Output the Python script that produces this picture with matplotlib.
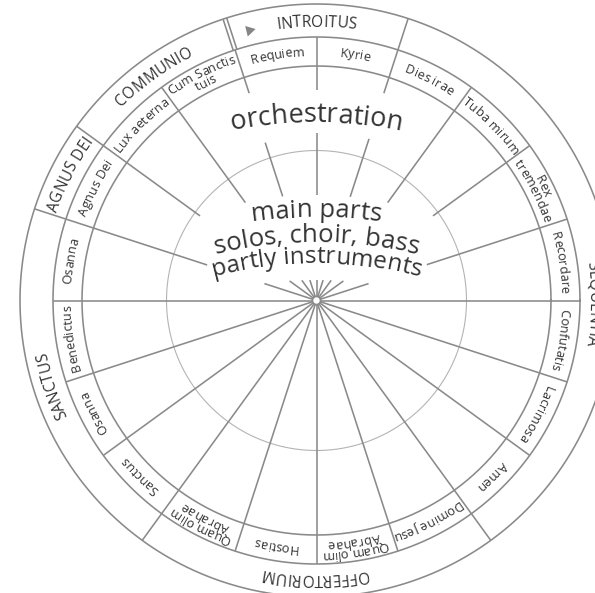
import matplotlib
matplotlib.use("Agg")
import matplotlib.pyplot as plt
import numpy as np
from matplotlib.font_manager import FontProperties, findfont, get_font

# sections of the Requiem and their number of parts (clockwise from the top)
sections = ["INTROITUS", "SEQUENTIA", "OFFERTORIUM", "SANCTUS", "AGNUS DEI", "COMMUNIO"]
section_sizes = [2, 7, 4, 4, 1, 2]
parts = ["Requiem", "Kyrie", "Dies irae", "Tuba mirum", "Rex\ntremendae", "Recordare",
         "Confutatis", "Lacrimosa", "Amen", "Domine Jesu", "Quam olim\nAbrahae", "Hostias",
         "Quam olim\nAbrahae", "Sanctus", "Osanna", "Benedictus", "Osanna", "Agnus Dei",
         "Lux aeterna", "Cum Sanctis\ntuis"]
outer_word = "orchestration"
center_lines = ["main parts", "solos, choir, bass", "partly instruments"]

FONT = "Open Sans"
LINE = "#8a8a8a"
TEXT = "#333333"
LW = 1.15

CX, CY = 316.5, 300.5
R_OUT, R_MID, R_IN, R_THIN = 296.5, 263.5, 234.5, 150
START = 108.0
STEP = 360.0 / len(parts)

fig = plt.figure(figsize=(5.95, 5.93), dpi=100)
ax = fig.add_axes([0, 0, 1, 1])
ax.set_xlim(0, 595)
ax.set_ylim(593, 0)
ax.set_aspect("equal")
ax.axis("off")
rend = fig.canvas.get_renderer()


def pt(r, a, cx=CX, cy=CY):
    t = np.radians(a)
    return cx + r * np.cos(t), cy - r * np.sin(t)


def ray(a, r0, r1):
    x0, y0 = pt(r0, a)
    x1, y1 = pt(r1, a)
    ax.plot([x0, x1], [y0, y1], color=LINE, lw=LW, solid_capstyle="butt")


def circle(r, color=LINE, lw=LW):
    t = np.linspace(0, 2 * np.pi, 721)
    ax.plot(CX + r * np.cos(t), CY + r * np.sin(t), color=color, lw=lw)


def arc_text(s, r, theta, size, cx=CX, cy=CY):
    # letters laid one by one along a circle, tops pointing outwards
    fp = FontProperties(family=FONT, size=size)
    ft = get_font(findfont(fp))

    def ink(t):
        return rend.get_text_width_height_descent(t, fp, ismath=False)[0]

    def bearing(ch):
        ft.clear()
        ft.set_size(size, 100)
        ft.set_text(ch, 0.0)
        return ft.get_bitmap_offset()[0] / 64.0

    bars = ink("||")

    def pen(t):
        return ink("|" + t + "|") - bars

    half = pen(s) / 2
    for i, ch in enumerate(s):
        if ch == " ":
            continue
        p = pen(s[:i]) if i else 0.0
        a0 = theta - np.degrees((p - half) / r)
        adv = pen(s[:i + 1]) - p
        a = a0 - np.degrees(adv / 2 / r)
        x, y = pt(r, a0, cx, cy)
        # agg shifts the glyph by its bearing along screen x, not along the baseline
        lsb = bearing(ch)
        t = np.radians(a)
        x += lsb * (np.sin(t) - 1)
        y += lsb * np.cos(t)
        ax.text(x, y, ch, rotation=a - 90, rotation_mode="anchor", ha="left",
                va="baseline", fontproperties=fp, color=TEXT)


# rings
circle(R_OUT)
circle(R_MID)
circle(R_IN)
circle(R_THIN, color="#b4b4b4", lw=0.8)

# part boundaries
inner_cut = {18: 116, 36: 144, 54: 121, 72: 109, 90: 105.5, 108: 109.5,
             126: 121, 144: 144, 162: 115}
text_gap = {72: (170, 218), 90: (167.5, 210.5), 108: (166, 218)}
for k in range(len(parts)):
    a = round((START - STEP * k + 180) % 360 - 180)
    ray(a, R_IN, R_MID)
    if a in inner_cut:
        if a in text_gap:
            lo, hi = text_gap[a]
            ray(a, hi, R_IN)
            ray(a, inner_cut[a], lo)
        else:
            ray(a, inner_cut[a], R_IN)
        # short spoke from the hub up to the lowest text line
        s = 359.5 * np.sin(np.radians(a))
        r_end = -s + np.sqrt(s * s - 359.5 ** 2 + 380.0 ** 2)
        ray(a, 0, r_end)
    else:
        ray(a, 0, R_IN)

# section boundaries
bounds = np.cumsum([0] + section_sizes[:-1])
for b in bounds:
    a = START - STEP * b
    if b == 0:
        for off in (-1.9, 1.9):
            x0, y0 = pt(R_MID, a)
            x1, y1 = pt(R_OUT, a)
            nx, ny = np.sin(np.radians(a)), np.cos(np.radians(a))
            ax.plot([x0 + off * nx, x1 + off * nx], [y0 + off * ny, y1 + off * ny],
                    color=LINE, lw=LW, solid_capstyle="butt")
    else:
        ray(a, R_MID, R_OUT)

# direction marker
mx, my = pt(279, 104)
ax.plot(mx, my, marker=(3, 0, -76), ms=9, color="#858585", mec="none")

# hub
ax.add_patch(plt.Circle((CX, CY), 4, facecolor="white", edgecolor=LINE, lw=LW, zorder=5))

# section labels (SEQUENTIA sits a little lower than its middle)
label_shift = {"SEQUENTIA": -9.5}
for i, name in enumerate(sections):
    a = START - STEP * (bounds[i] + section_sizes[i] / 2) + label_shift.get(name, 0)
    arc_text(name, 274, a, 11.2)

# part labels
for k, name in enumerate(parts):
    a = START - STEP * (k + 0.5)
    rows = name.split("\n")
    if len(rows) == 1:
        arc_text(rows[0], 245, a, 9.2)
    else:
        arc_text(rows[0], 251, a, 9.2)
        arc_text(rows[1], 240.5, a, 9.2)

# centre texts
arc_text(outer_word, 424, 90, 19.5, cy=546)
for txt, r, size in zip(center_lines, [443, 418, 397], [18.5, 18.5, 17.5]):
    arc_text(txt, r, 90, size, cy=660)

fig.savefig("out.png", dpi=100)
